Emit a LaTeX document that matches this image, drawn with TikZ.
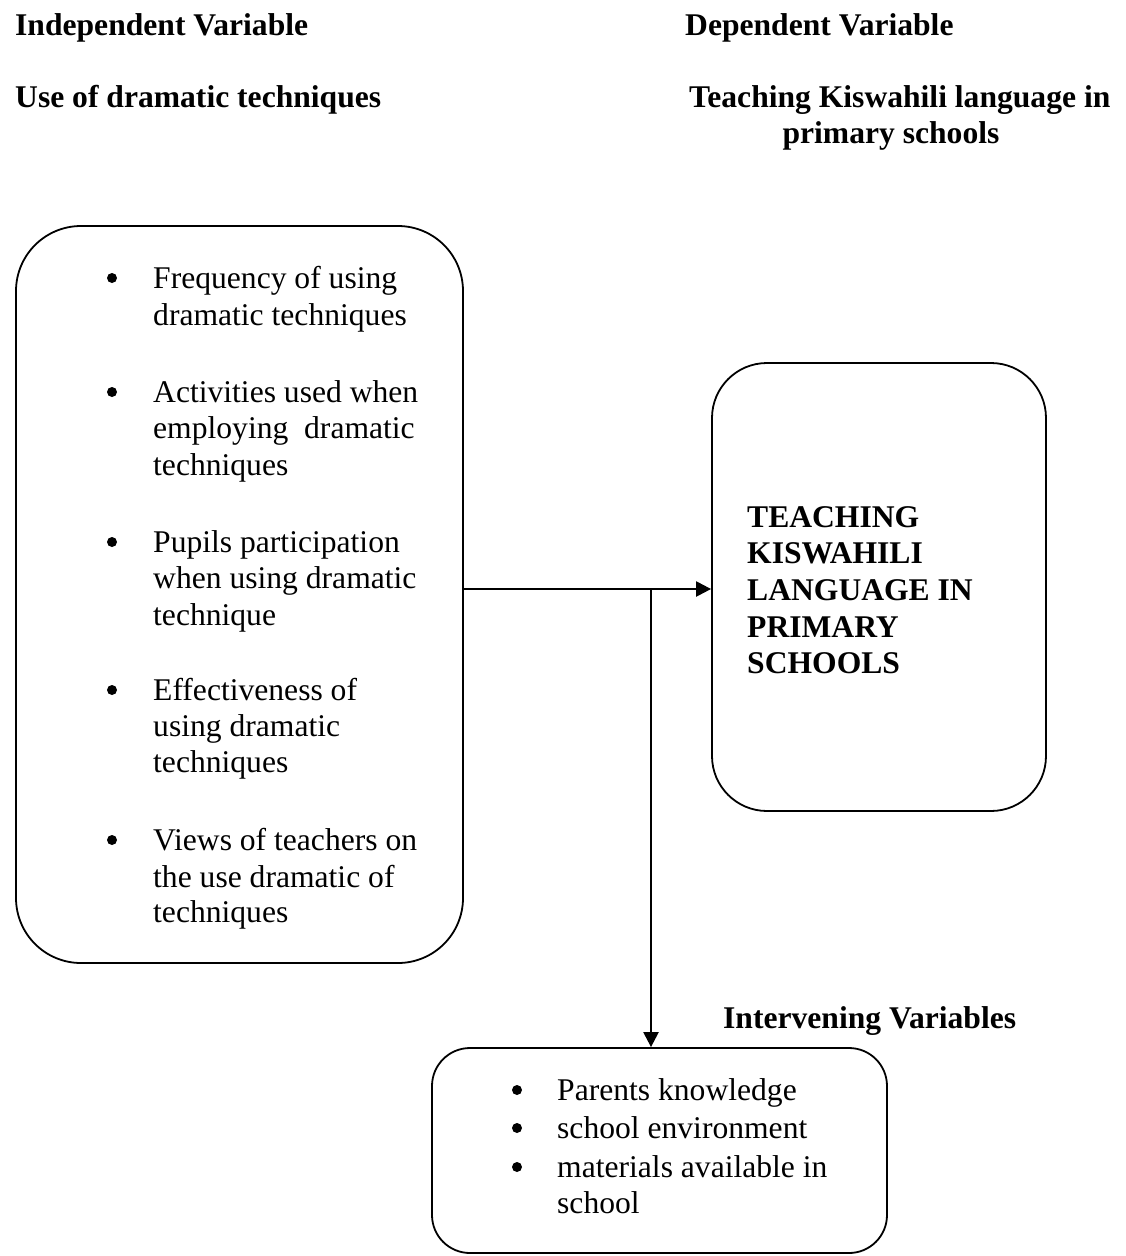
\documentclass[tikz,border=0pt]{standalone}
\usepackage{fontspec}
\setmainfont{Liberation Serif}
\usetikzlibrary{arrows.meta}
\begin{document}
\begin{tikzpicture}[x=1pt,y=-1pt,
  txt/.style={anchor=base west,inner sep=0pt,font=\fontsize{31.6}{36.5}\selectfont},
  btxt/.style={anchor=base west,inner sep=0pt,font=\fontsize{31.6}{36.5}\selectfont\bfseries},
  bul/.style={circle,fill=black,inner sep=0pt,minimum size=10pt},
  rbox/.style={draw=black,line width=1.8pt,rounded corners=#1,inner sep=0pt},
  arr/.style={line width=2.3pt,-{Triangle[length=15pt,width=15pt]}}]
\useasboundingbox (0,0) rectangle (1125,1256);

% headings
\node[btxt] (h1) at (15,35) {Independent Variable};
\node[btxt] (h2) at (685,35) {Dependent Variable};
\node[btxt] (h3) at (15,107) {Use of dramatic techniques};
\node[btxt] (h4) at (689,107) {Teaching Kiswahili language in};
\node[btxt,anchor=base] (h5) at (891,143) {primary schools};
\node[btxt] (h6) at (723,1028) {Intervening Variables};

% boxes
\node[rbox=65pt,minimum width=447pt,minimum height=737pt] (L) at (239.5,594.5) {};
\node[rbox=55pt,minimum width=334pt,minimum height=448pt] (R) at (879,587) {};
\node[rbox=38pt,minimum width=455pt,minimum height=205pt] (B) at (659.5,1150.5) {};

% left box items
\node[bul] (lb1) at (112,278) {};
\node[txt] (l1a) at (153,288) {Frequency of using};
\node[txt] (l1b) at (153,325) {dramatic techniques};
\node[bul] (lb2) at (112,392) {};
\node[txt] (l2a) at (153,402) {Activities used when};
\node[txt] (l2b) at (153,438) {employing\ \ dramatic};
\node[txt] (l2c) at (153,475) {techniques};
\node[bul] (lb3) at (112,542) {};
\node[txt] (l3a) at (153,552) {Pupils participation};
\node[txt] (l3b) at (153,588) {when using dramatic};
\node[txt] (l3c) at (153,625) {technique};
\node[bul] (lb4) at (112,690) {};
\node[txt] (l4a) at (153,700) {Effectiveness of};
\node[txt] (l4b) at (153,736) {using dramatic};
\node[txt] (l4c) at (153,772) {techniques};
\node[bul] (lb5) at (112,840) {};
\node[txt] (l5a) at (153,850) {Views of teachers on};
\node[txt] (l5b) at (153,887) {the use dramatic of};
\node[txt] (l5c) at (153,922) {techniques};

% right box text
\node[btxt] (r1) at (747,527) {TEACHING};
\node[btxt] (r2) at (747,563) {KISWAHILI};
\node[btxt] (r3) at (747,600) {LANGUAGE IN};
\node[btxt] (r4) at (747,637) {PRIMARY};
\node[btxt] (r5) at (747,673) {SCHOOLS};

% bottom box items
\node[bul] (bb1) at (517,1090) {};
\node[txt] (b1) at (557,1100) {Parents knowledge};
\node[bul] (bb2) at (517,1128) {};
\node[txt] (b2) at (557,1138) {school environment};
\node[bul] (bb3) at (517,1167) {};
\node[txt] (b3a) at (557,1177) {materials available in};
\node[txt] (b3b) at (557,1213) {school};

% connectors
\coordinate (J) at (651,589);
\draw[arr] (L.east |- J) -- (R.west |- J);
\draw[arr] (J) -- (J |- B.north);
\end{tikzpicture}
\end{document}
